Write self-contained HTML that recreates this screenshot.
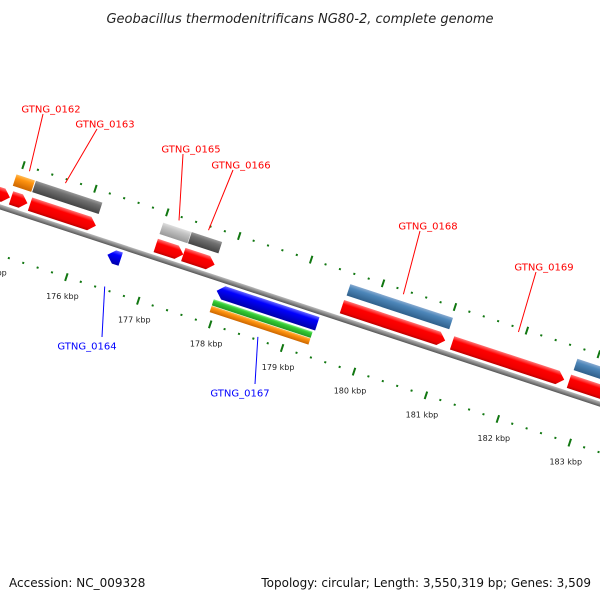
<!DOCTYPE html>
<html><head><meta charset="utf-8"><style>
html,body{margin:0;padding:0;background:#fff;}
svg{display:block;font-family:"DejaVu Sans","Liberation Sans",sans-serif;}
</style></head><body>
<svg id="chart" width="600" height="600" viewBox="0 0 600 600" xmlns="http://www.w3.org/2000/svg">
<defs>
<linearGradient id="gRed" x1="0" y1="0" x2="0" y2="1"><stop offset="0" stop-color="#ff7777"/><stop offset="0.3" stop-color="#ff0000"/><stop offset="0.8" stop-color="#ee0000"/><stop offset="1" stop-color="#bb0000"/></linearGradient>
<linearGradient id="gBlue" x1="0" y1="0" x2="0" y2="1"><stop offset="0" stop-color="#6666ff"/><stop offset="0.3" stop-color="#0000ff"/><stop offset="1" stop-color="#0000aa"/></linearGradient>
<linearGradient id="gDGray" x1="0" y1="0" x2="0" y2="1"><stop offset="0" stop-color="#999"/><stop offset="0.3" stop-color="#707070"/><stop offset="1" stop-color="#444"/></linearGradient>
<linearGradient id="gLGray" x1="0" y1="0" x2="0" y2="1"><stop offset="0" stop-color="#e0e0e0"/><stop offset="0.3" stop-color="#c4c4c4"/><stop offset="1" stop-color="#999"/></linearGradient>
<linearGradient id="gOrange" x1="0" y1="0" x2="0" y2="1"><stop offset="0" stop-color="#ffbb55"/><stop offset="0.3" stop-color="#ff9410"/><stop offset="1" stop-color="#cc6600"/></linearGradient>
<linearGradient id="gSteel" x1="0" y1="0" x2="0" y2="1"><stop offset="0" stop-color="#88aad0"/><stop offset="0.3" stop-color="#4d87ba"/><stop offset="1" stop-color="#2f5f8a"/></linearGradient>
<linearGradient id="gGreen" x1="0" y1="0" x2="0" y2="1"><stop offset="0" stop-color="#88ee88"/><stop offset="0.3" stop-color="#33cc33"/><stop offset="1" stop-color="#229922"/></linearGradient>
<linearGradient id="gBack" x1="0" y1="0" x2="0" y2="1"><stop offset="0" stop-color="#bbb"/><stop offset="0.5" stop-color="#888"/><stop offset="1" stop-color="#555"/></linearGradient>
</defs>
<text x="300" y="23" text-anchor="middle" font-size="13" font-style="italic" fill="#222">Geobacillus thermodenitrificans NG80-2, complete genome</text>
<g id="rot" transform="translate(0,210) rotate(18.2)"></g>
<g id="overlay"></g>
<text x="9" y="587" font-size="12" fill="#111">Accession: NC_009328</text>
<text x="591" y="587" font-size="12" text-anchor="end" fill="#111">Topology: circular; Length: 3,550,319 bp; Genes: 3,509</text>
</svg>
<script>
// data (bp)
const tickKbp = [175,176,177,178,179,180,181,182,183,184];
const redStarts = [174626,174979,175243,176991,177374,179580,181112,182737];
const redEnds   = [174963,175207,176159,177374,177810,181016,182671,184400];
const cdsStarts = [174951,175221,176991,177387,179593,182750];
const cdsEnds   = [175207,176145,177380,177810,181020,184400];
const cdsKinds  = ['orange','dgray','lgray','dgray','steel','steel'];
const revStarts = [176423,177942,177942,177942];
const revEnds   = [176608,179342,179316,179316];
const revKinds  = ['bluearrow','bluearrow','green','orange'];
const labelNames = ['GTNG_0162','GTNG_0163','GTNG_0165','GTNG_0166','GTNG_0168','GTNG_0169','GTNG_0164','GTNG_0167'];
const labelBp    = [175100,175600,177180,177590,180300,181900,176520,178650];
const labelStrand= [1,1,1,1,1,1,-1,-1];

const NS='http://www.w3.org/2000/svg';
const ANG=18.2*Math.PI/180, C=Math.cos(ANG), S=Math.sin(ANG);
function U(bp){return 84+(bp-176000)/1000*75.7;}
function scr(u,v){return [u*C - v*S, 210 + u*S + v*C];}
const rot=document.getElementById('rot'), ov=document.getElementById('overlay');
function mk(tag,attrs,parent){const e=document.createElementNS(NS,tag);for(const k in attrs)e.setAttribute(k,attrs[k]);parent.appendChild(e);return e;}

// backbone
let bb=mk('rect',{x:-60,y:-5.5,width:800,height:5,fill:'url(#gBack)'},rot);



// ticks
for(let i=0;i<tickKbp.length;i++){
  for(let m=0;m<5;m++){
    const bp=tickKbp[i]*1000+m*200, u=U(bp);
    for(const v of [-50,43]){
      let t;
      if(m===0) t=mk('rect',{x:u-1,y:v-4,width:2,height:8,fill:'#117711'},rot);
      else t=mk('rect',{x:u-1,y:v-1,width:2,height:2,fill:'#117711'},rot);
      
      
    }
  }
  const p=scr(U(tickKbp[i]*1000),43);
  const tl=mk('text',{x:p[0]-4,y:p[1]+22,'text-anchor':'middle','font-size':'8',fill:'#222'},ov);
  tl.textContent=tickKbp[i]+' kbp';
  
  
}

function fwdArrow(s,e,top,h,fill){
  const a=U(s),b=U(e),tip=Math.min(7,(b-a)/2);
  return mk('polygon',{points:`${a},${top} ${b-tip},${top} ${b},${top+h/2} ${b-tip},${top+h} ${a},${top+h}`,fill:fill},rot);
}
function revArrow(s,e,top,h,fill){
  const a=U(s),b=U(e),tip=Math.min(7,(b-a)/2);
  return mk('polygon',{points:`${a},${top+h/2} ${a+tip},${top} ${b},${top} ${b},${top+h} ${a+tip},${top+h}`,fill:fill},rot);
}
for(let i=0;i<redStarts.length;i++){
  const g=fwdArrow(redStarts[i],redEnds[i],-22,14,'url(#gRed)');
  
  
}
const fills={orange:'url(#gOrange)',dgray:'url(#gDGray)',lgray:'url(#gLGray)',steel:'url(#gSteel)',green:'url(#gGreen)'};
for(let i=0;i<cdsStarts.length;i++){
  const a=U(cdsStarts[i]),b=U(cdsEnds[i]);
  const r=mk('rect',{x:a,y:-39,width:b-a,height:12,fill:fills[cdsKinds[i]]},rot);
  
  
}
for(let i=0;i<revStarts.length;i++){
  let el;
  if(revKinds[i]==='bluearrow') el=revArrow(revStarts[i],revEnds[i],2,14,'url(#gBlue)');
  else { const a=U(revStarts[i]),b=U(revEnds[i]); const top=revKinds[i]==='green'?18:25;
    el=mk('rect',{x:a,y:top,width:b-a,height:6.5,fill:fills[revKinds[i]]},rot); }
  
  
}

// labels
const labelPos=[[51,109],[105,124],[191,149],[241,165],[428,226],[544,267],[87,346],[240,393]];
for(let i=0;i<labelNames.length;i++){
  const col=labelStrand[i]>0?'#ff0000':'#0000ff';
  const lp=labelPos[i];
  const p=scr(U(labelBp[i]), labelStrand[i]>0?-46:40);
  const ly=labelStrand[i]>0?lp[1]+5:lp[1]-9;
  const ln=mk('line',{x1:lp[0]+(labelStrand[i]>0?-8:15),y1:ly,x2:p[0],y2:p[1],stroke:col,'stroke-width':1},ov);
  
  
  const t=mk('text',{x:lp[0],y:lp[1]+3.5,'text-anchor':'middle','font-size':'10',fill:col},ov);
  t.textContent=labelNames[i];
  
  
}
</script>
</body></html>
